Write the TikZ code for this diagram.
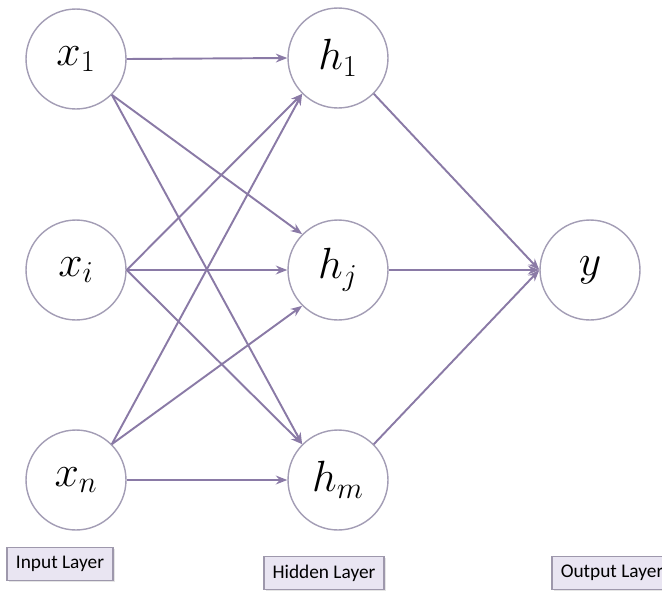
\documentclass[tikz,border=0pt]{standalone}
\usepackage{fontspec}
\newfontfamily\labelfont{Carlito}
\usetikzlibrary{arrows.meta, shadows}
\definecolor{edgepurple}{HTML}{8A7AA6}
\definecolor{ringgray}{HTML}{A39DB5}
\definecolor{boxlilac}{HTML}{E9E5F2}
\definecolor{boxgray}{HTML}{9E98AC}

\begin{document}
\begin{tikzpicture}[x=0.02cm, y=-0.02cm, >={Stealth[length=6.5pt, width=5pt]},
    neuron/.style={circle, draw=ringgray, line width=0.8pt, fill=white,
      minimum size=2cm, inner sep=0pt, font=\fontsize{26}{30}\selectfont},
    layerbox/.style={rectangle, draw=boxgray, line width=1pt, fill=boxlilac,
      minimum height=0.66cm, inner xsep=5pt, font=\labelfont\fontsize{11}{13}\selectfont,
      drop shadow={shadow xshift=1pt, shadow yshift=-1pt, fill=gray!40}},
    link/.style={->, line width=1.1pt, edgepurple},
  ]
    \useasboundingbox (0,0) rectangle (662,592);

    \node[neuron] (x1) at (76,59)  {$x_1$};
    \node[neuron] (xi) at (76,270) {$x_i$};
    \node[neuron] (xn) at (76,480) {$x_n$};

    \node[neuron] (h1) at (338,58)  {$h_1$};
    \node[neuron] (hj) at (338,270) {$h_j$};
    \node[neuron] (hm) at (338,480) {$h_m$};

    \node[neuron] (y) at (590,270) {$y$};

    \node[layerbox] (inlab)  at (60,564)  {Input Layer};
    \node[layerbox] (hidlab) at (324,573) {Hidden Layer};
    \node[layerbox] (outlab) at (612,573) {Output Layer};

    % input -> hidden
    \draw[link] (x1.east) -- (h1.west);
    \draw[link] (x1.-45) -- (hj.135);
    \draw[link] (x1.-45) -- (hm.135);
    \draw[link] (xi.east) -- (h1.225);
    \draw[link] (xi.east) -- (hj.west);
    \draw[link] (xi.east) -- (hm.135);
    \draw[link] (xn.45) -- (h1.225);
    \draw[link] (xn.45) -- (hj.225);
    \draw[link] (xn.east) -- (hm.west);
    % hidden -> output
    \draw[link] (h1.-45) -- (y.west);
    \draw[link] (hj.east) -- (y.west);
    \draw[link] (hm.45) -- (y.west);
  \end{tikzpicture}
\end{document}
